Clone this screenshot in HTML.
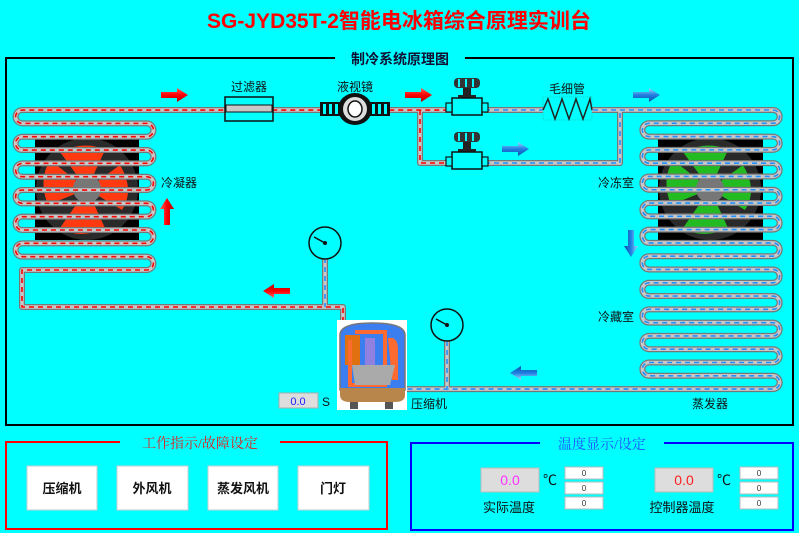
<!DOCTYPE html>
<html><head><meta charset="utf-8"><style>
body{margin:0;background:#00ffff;}
svg{display:block;font-family:"Liberation Sans","Noto Sans CJK SC",sans-serif;}
</style></head><body>
<svg width="799" height="533" viewBox="0 0 799 533" xmlns="http://www.w3.org/2000/svg">
<defs>
<linearGradient id="ra" x1="0" y1="0" x2="0" y2="1"><stop offset="0" stop-color="#ff6060"/><stop offset="0.5" stop-color="#ff0000"/><stop offset="1" stop-color="#b00000"/></linearGradient>
<linearGradient id="ba" x1="0" y1="0" x2="0" y2="1"><stop offset="0" stop-color="#a0d8ff"/><stop offset="0.5" stop-color="#1e7fe0"/><stop offset="1" stop-color="#1050b0"/></linearGradient>
<g id="ra_r"><path d="M0,4 H16 V0 L27,7 L16,14 V10 H0 Z" fill="url(#ra)"/></g>
<g id="ba_r"><path d="M0,4 H16 V0 L27,7 L16,14 V10 H0 Z" fill="url(#ba)"/></g>
<g id="valve">
<rect x="8" y="0" width="26" height="10" rx="4" fill="#333"/>
<rect x="12" y="1" width="2" height="8" fill="#0ff"/><rect x="19" y="1" width="2" height="8" fill="#0ff"/><rect x="26" y="1" width="2" height="8" fill="#0ff"/>
<rect x="17" y="10" width="8" height="9" fill="#222"/>
<rect x="12" y="17" width="18" height="3" fill="#222"/>
<rect x="6" y="20" width="30" height="17" fill="#0ff" stroke="#111" stroke-width="1.5"/>
<rect x="0" y="25" width="6" height="9" fill="#0ff" stroke="#111" stroke-width="1.2"/>
<rect x="36" y="25" width="6" height="9" fill="#0ff" stroke="#111" stroke-width="1.2"/>
</g>
</defs>
<rect width="799" height="533" fill="#00ffff"/>
<text x="399" y="28" text-anchor="middle" font-size="21" font-weight="bold" fill="#ff0000">SG-JYD35T-2智能电冰箱综合原理实训台</text>
<path d="M335,58 H6 V425 H793 V58 H465" fill="none" stroke="#000" stroke-width="2"/>
<text x="400" y="64" text-anchor="middle" font-size="14" font-weight="bold" fill="#113">制冷系统原理图</text>

<rect x="35" y="138" width="104" height="102" fill="#000"/>
<circle cx="87" cy="189" r="51" fill="#2a2a2a"/>
<g fill="#ff3a10">
<path d="M87,189 L60,152 Q85,140 105,150 Z"/><path d="M87,189 L120,165 Q135,190 122,210 Z"/><path d="M87,189 L105,228 Q80,240 60,228 Z"/><path d="M87,189 L48,205 Q38,180 50,160 Z"/>
</g>
<circle cx="87" cy="189" r="14" fill="#777"/>
<rect x="658" y="138" width="105" height="102" fill="#000"/>
<circle cx="710" cy="189" r="51" fill="#2a2a2a"/>
<g fill="#22bb22">
<path d="M710,189 L683,152 Q708,140 728,150 Z"/><path d="M710,189 L743,165 Q758,190 745,210 Z"/><path d="M710,189 L728,228 Q703,240 683,228 Z"/><path d="M710,189 L671,205 Q661,180 673,160 Z"/>
</g>
<circle cx="710" cy="189" r="14" fill="#777"/>

<g fill="none" stroke-linecap="round" stroke-linejoin="round">
<g stroke="#777" stroke-width="6">
<path id="pr" d="M343,322 V307 H22 V270 h125 a6.67,6.67 0 0 0 0,-13.33 h-125 a6.67,6.67 0 0 1 0,-13.33 h125 a6.67,6.67 0 0 0 0,-13.33 h-125 a6.67,6.67 0 0 1 0,-13.33 h125 a6.67,6.67 0 0 0 0,-13.33 h-125 a6.67,6.67 0 0 1 0,-13.33 h125 a6.67,6.67 0 0 0 0,-13.33 h-125 a6.67,6.67 0 0 1 0,-13.33 h125 a6.67,6.67 0 0 0 0,-13.33 h-125 a6.67,6.67 0 0 1 0,-13.33 h125 a6.67,6.67 0 0 0 0,-13.33 h-125 a6.67,6.67 0 0 1 0,-13.33 H450 M420,110 V163 H450"/>
<path id="pb" d="M485,110 H773 a6.64,6.64 0 0 1 0,13.29 h-124 a6.64,6.64 0 0 0 0,13.29 h124 a6.64,6.64 0 0 1 0,13.29 h-124 a6.64,6.64 0 0 0 0,13.29 h124 a6.64,6.64 0 0 1 0,13.29 h-124 a6.64,6.64 0 0 0 0,13.29 h124 a6.64,6.64 0 0 1 0,13.29 h-124 a6.64,6.64 0 0 0 0,13.29 h124 a6.64,6.64 0 0 1 0,13.29 h-124 a6.64,6.64 0 0 0 0,13.29 h124 a6.64,6.64 0 0 1 0,13.29 h-124 a6.64,6.64 0 0 0 0,13.29 h124 a6.64,6.64 0 0 1 0,13.29 h-124 a6.64,6.64 0 0 0 0,13.29 h124 a6.64,6.64 0 0 1 0,13.29 h-124 a6.64,6.64 0 0 0 0,13.29 h124 a6.64,6.64 0 0 1 0,13.29 h-124 a6.64,6.64 0 0 0 0,13.29 h124 a6.64,6.64 0 0 1 0,13.29 h-124 a6.64,6.64 0 0 0 0,13.29 h124 a6.64,6.64 0 0 1 0,13.29 H405 M485,163 H620 V110 M325,258 V307 M447,341 V388"/>
</g>
<use href="#pr" stroke="#c8c8c8" stroke-width="3.5"/>
<use href="#pb" stroke="#c8c8c8" stroke-width="3.5"/>
<use href="#pr" stroke="#ff0000" stroke-width="1.6" stroke-dasharray="5,4" stroke-linecap="butt"/>
<use href="#pb" stroke="#1e90ff" stroke-width="1.6" stroke-dasharray="5,4" stroke-linecap="butt"/>
</g>

<rect x="225" y="97" width="48" height="24" fill="#0ff" stroke="#111" stroke-width="1.5"/>
<rect x="226" y="105" width="46" height="7" fill="#c8c8c8" stroke="#111" stroke-width="1"/>
<text x="249" y="91" text-anchor="middle" font-size="12" fill="#111">过滤器</text>
<rect x="320" y="102" width="70" height="14" fill="#111"/>
<g fill="#0ff"><rect x="323" y="104" width="3" height="10"/><rect x="329" y="104" width="3" height="10"/><rect x="335" y="104" width="3" height="10"/><rect x="372" y="104" width="3" height="10"/><rect x="378" y="104" width="3" height="10"/><rect x="384" y="104" width="3" height="10"/></g>
<ellipse cx="355" cy="109" rx="17" ry="16" fill="#111"/>
<ellipse cx="355" cy="109" rx="12" ry="12" fill="#ddd"/>
<ellipse cx="355" cy="109" rx="7" ry="8" fill="#fff" stroke="#111" stroke-width="1.5"/>
<text x="355" y="91" text-anchor="middle" font-size="12" fill="#111">液视镜</text>
<use href="#valve" x="446" y="78"/>
<use href="#valve" x="446" y="132"/>
<rect x="543" y="97" width="49" height="23" fill="#0ff" stroke="#3a9" stroke-width="0.6" stroke-dasharray="1,1"/>
<path d="M543,110 L548,99 L555,119 L562,99 L569,119 L576,99 L583,119 L590,99 L592,110" fill="none" stroke="#222" stroke-width="1.5"/>
<text x="567" y="93" text-anchor="middle" font-size="12" fill="#111">毛细管</text>

<use href="#ra_r" x="161" y="88"/>
<use href="#ra_r" x="405" y="88"/>
<use href="#ra_r" transform="translate(290,298) rotate(180)"/>
<use href="#ra_r" transform="translate(160,225) rotate(-90)"/>
<use href="#ba_r" x="633" y="88"/>
<use href="#ba_r" x="502" y="142"/>
<use href="#ba_r" transform="translate(537,380) rotate(180)"/>
<use href="#ba_r" transform="translate(638,230) rotate(90)"/>

<circle cx="325" cy="243" r="16" fill="#0ff" stroke="#111" stroke-width="1.5"/>
<line x1="325" y1="243" x2="314" y2="237" stroke="#111" stroke-width="1.5"/><circle cx="325" cy="243" r="2" fill="#111"/>
<circle cx="447" cy="325" r="16" fill="#0ff" stroke="#111" stroke-width="1.5"/>
<line x1="447" y1="325" x2="436" y2="319" stroke="#111" stroke-width="1.5"/><circle cx="447" cy="325" r="2" fill="#111"/>

<rect x="337" y="320" width="70" height="90" fill="#fff"/>
<path d="M340,390 V335 Q340,323 372,323 Q405,323 405,335 V390 Z" fill="#3a7ef0" stroke="#777" stroke-width="1.5"/>
<path d="M340,388 H405 V395 Q405,402 395,402 H350 Q340,402 340,395 Z" fill="#b8864b"/>
<rect x="345" y="335" width="15" height="30" fill="#e07010"/>
<path d="M355,332 H385 V385 H350 V340" fill="none" stroke="#ff6a30" stroke-width="4"/>
<path d="M388,338 Q398,336 398,350 V380 H392 Z" fill="#ff6a30"/>
<rect x="365" y="338" width="10" height="30" fill="#9080e0"/>
<path d="M352,365 H395 L390,385 H355 Z" fill="#aaa"/>
<rect x="350" y="402" width="8" height="7" fill="#555"/><rect x="385" y="402" width="8" height="7" fill="#555"/>

<g font-size="12" fill="#111">
<text x="161" y="187">冷凝器</text>
<text x="598" y="187">冷冻室</text>
<text x="598" y="321">冷藏室</text>
<text x="411" y="408">压缩机</text>
<text x="692" y="408">蒸发器</text>
<text x="322" y="406">S</text>
</g>
<rect x="279" y="393" width="39" height="15" fill="#ddd" stroke="#aaa"/>
<text x="298" y="405" text-anchor="middle" font-size="11" fill="#2020ff">0.0</text>

<path d="M120,442 H6 V529 H387 V442 H280" fill="none" stroke="#ff0000" stroke-width="2"/>
<text x="200" y="448" text-anchor="middle" font-size="14" fill="#e02020" font-family="Liberation Serif,Noto Serif CJK SC,serif">工作指示/故障设定</text>
<g font-size="13" font-weight="bold" fill="#111" text-anchor="middle">
<rect x="27" y="466" width="70" height="44" fill="#fff" stroke="#ccc"/><text x="62" y="493">压缩机</text>
<rect x="117" y="466" width="71" height="44" fill="#fff" stroke="#ccc"/><text x="152" y="493">外风机</text>
<rect x="208" y="466" width="70" height="44" fill="#fff" stroke="#ccc"/><text x="243" y="493">蒸发风机</text>
<rect x="298" y="466" width="71" height="44" fill="#fff" stroke="#ccc"/><text x="333" y="493">门灯</text>
</g>

<path d="M540,443 H411 V530 H793 V443 H664" fill="none" stroke="#0000ff" stroke-width="2"/>
<text x="602" y="449" text-anchor="middle" font-size="14" fill="#2050ff" font-family="Liberation Serif,Noto Serif CJK SC,serif">温度显示/设定</text>
<rect x="481" y="468" width="58" height="24" fill="#ddd" stroke="#bbb"/>
<text x="510" y="485" text-anchor="middle" font-size="14" fill="#ff30ff">0.0</text>
<text x="543" y="485" font-size="14" fill="#111">℃</text>
<rect x="655" y="468" width="58" height="24" fill="#ddd" stroke="#bbb"/>
<text x="684" y="485" text-anchor="middle" font-size="14" fill="#ff2020">0.0</text>
<text x="717" y="485" font-size="14" fill="#111">℃</text>
<g fill="#fff" stroke="#bbb">
<rect x="565" y="467" width="38" height="12"/><rect x="565" y="482" width="38" height="12"/><rect x="565" y="497" width="38" height="12"/>
<rect x="740" y="467" width="38" height="12"/><rect x="740" y="482" width="38" height="12"/><rect x="740" y="497" width="38" height="12"/>
</g>
<g font-size="8" fill="#333" text-anchor="middle">
<text x="584" y="476">0</text><text x="584" y="491">0</text><text x="584" y="506">0</text>
<text x="759" y="476">0</text><text x="759" y="491">0</text><text x="759" y="506">0</text>
</g>
<text x="509" y="512" text-anchor="middle" font-size="13" fill="#111">实际温度</text>
<text x="682" y="512" text-anchor="middle" font-size="13" fill="#111">控制器温度</text>
</svg>
</body></html>
